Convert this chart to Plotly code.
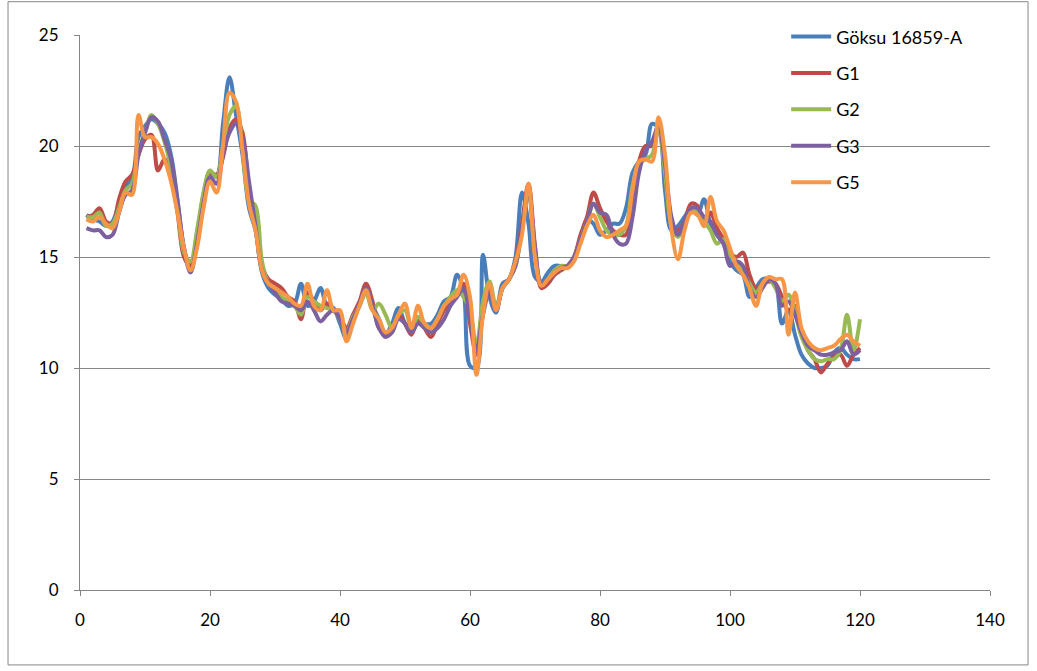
import plotly.graph_objects as go

# Sample positions 1..120
x_vals = list(range(1, 121))

goksu = [16.9, 16.7, 16.6, 16.4, 16.6, 17.4, 18.2, 18.5, 20.4, 20.9,
         21.2, 21.0, 20.6, 19.6, 17.6, 15.4, 14.5, 15.6, 17.4, 18.8,
         18.6, 21.0, 23.1, 21.4, 19.6, 17.2, 16.2, 14.3, 13.6, 13.3,
         13.1, 12.8, 12.9, 13.8, 12.8, 13.0, 13.6, 12.8, 12.7, 12.0,
         11.3, 12.2, 12.8, 13.4, 12.8, 12.2, 11.5, 12.0, 12.7, 12.0,
         11.6, 12.3, 12.0, 12.0, 12.4, 13.0, 13.2, 14.2, 13.5, 10.1,
         10.0, 15.1, 13.2, 12.5, 13.8, 14.0, 15.0, 17.9, 16.5, 14.1,
         13.9, 14.3, 14.6, 14.6, 14.6, 14.9, 15.8, 16.7, 16.5, 16.0,
         16.2, 16.5, 16.5, 17.2, 18.8, 19.3, 19.6, 21.0, 20.8, 18.0,
         16.2, 16.4, 16.8, 17.2, 16.9, 17.6, 16.5, 16.0, 15.6, 14.8,
         14.4, 14.2, 13.2, 13.6, 14.0, 14.0, 13.8, 12.0, 12.6, 11.5,
         10.6, 10.2, 10.0, 10.0, 10.1, 10.7, 10.9, 10.6, 10.4, 10.4]

g1 = [16.8, 16.9, 17.2, 16.6, 16.5, 17.6, 18.4, 18.7, 19.6, 20.3,
      20.5, 18.9, 19.4, 18.6, 17.0, 15.0, 14.6, 16.0, 17.8, 18.8,
      18.7, 19.5, 20.8, 21.2, 20.6, 18.0, 16.5, 14.6, 14.0, 13.8,
      13.6, 13.2, 13.0, 12.2, 13.4, 13.0, 12.6, 12.9, 12.6, 12.3,
      11.8, 12.4, 13.0, 13.8, 13.0, 11.8, 11.6, 11.7, 12.4, 12.0,
      11.5, 12.2, 11.8, 11.4, 12.0, 12.6, 13.0, 13.4, 13.8, 12.0,
      10.6, 12.8, 13.6, 12.6, 13.6, 14.0, 14.8, 16.5, 18.3, 15.5,
      13.6, 13.8, 14.2, 14.4, 14.6, 15.0, 16.0, 16.8, 17.9, 17.2,
      16.6, 16.2, 16.0, 16.0, 17.5, 19.3, 20.0, 20.0, 21.0, 19.0,
      16.5, 16.2, 16.6, 17.4, 17.3, 16.4, 17.0, 16.3, 15.8, 15.2,
      15.0, 15.2, 14.2, 13.6, 13.8, 13.9, 13.8, 13.2, 12.6, 12.8,
      11.6, 10.8, 10.4, 9.8, 10.2, 10.5, 10.6, 10.1, 10.6, 10.9]

g2 = [16.8, 16.8, 17.0, 16.4, 16.5, 17.2, 18.0, 18.3, 19.8, 20.6,
      21.4, 21.0, 20.2, 19.0, 17.2, 15.2, 14.8, 16.2, 17.9, 18.9,
      18.6, 20.0, 21.4, 21.8, 20.0, 17.6, 17.3, 14.8, 13.8, 13.5,
      13.2, 13.0, 12.8, 12.4, 13.2, 13.0, 12.8, 12.7, 12.6, 12.2,
      11.6, 12.3, 12.8, 13.4, 12.6, 12.9, 12.4, 11.8, 12.4, 12.6,
      11.8, 12.3, 12.0, 11.8, 12.2, 12.8, 13.2, 13.5, 13.2, 12.6,
      11.0, 13.0, 13.9, 12.8, 13.6, 14.0, 14.6, 16.2, 17.9, 15.2,
      13.8, 14.0, 14.4, 14.6, 14.6, 14.9, 15.8, 16.6, 17.4, 16.8,
      16.2, 16.0, 16.0, 16.4, 18.2, 19.2, 19.4, 19.6, 20.8, 18.8,
      16.4, 15.9, 16.4, 17.2, 17.0, 16.6, 16.2, 15.6, 15.8, 15.1,
      14.8, 14.4, 13.8, 13.4, 13.8, 14.0, 13.6, 13.0, 13.3, 12.5,
      11.4, 10.8, 10.4, 10.3, 10.4, 10.4, 10.8, 12.4, 10.8, 12.2]

g3 = [16.3, 16.2, 16.2, 15.9, 16.0, 17.0, 17.8, 18.0, 19.6, 20.6,
      21.3, 21.1, 20.3, 19.4, 17.5, 15.4, 14.3, 15.6, 17.4, 18.6,
      18.3, 19.6, 20.6, 21.0, 20.4, 18.4, 16.4, 14.4, 13.8, 13.4,
      13.0, 12.9, 12.8, 12.6, 13.0, 12.6, 12.1, 12.4, 12.6, 12.2,
      11.6, 12.2, 12.9, 13.6, 12.8, 11.8, 11.4, 11.6, 12.2, 12.0,
      11.6, 12.0, 11.8, 11.6, 11.8, 12.2, 12.8, 13.2, 13.6, 12.2,
      10.8, 12.4, 13.4, 12.6, 13.6, 14.0, 14.6, 16.4, 18.0, 15.4,
      13.8, 14.0, 14.3, 14.5, 14.6, 15.0, 15.8, 16.6, 17.4, 17.0,
      16.9, 16.0, 15.6, 15.6, 16.8, 18.8, 19.8, 20.2, 20.9, 19.2,
      16.8, 16.0, 16.6, 17.2, 17.2, 16.8, 16.6, 16.0, 15.6, 14.6,
      14.8, 14.6, 13.6, 13.2, 13.6, 14.0, 13.8, 12.8, 13.0, 12.4,
      11.6, 11.0, 10.8, 10.6, 10.6, 10.7, 10.8, 11.2, 10.6, 10.8]

g5 = [16.7, 16.6, 16.8, 16.5, 16.3, 17.0, 17.9, 17.8, 21.4, 20.4,
      20.4, 20.1, 19.4, 18.4, 17.0, 15.4, 14.4, 15.4, 17.2, 18.4,
      17.9, 20.0, 22.4, 22.0, 19.8, 17.4, 16.2, 14.4, 13.8, 13.6,
      13.4, 13.2, 12.9, 12.8, 13.8, 12.8, 12.6, 13.5, 12.6, 12.6,
      11.2, 12.0, 12.8, 13.5, 12.6, 12.2, 11.6, 11.8, 12.4, 12.9,
      11.8, 12.8, 12.0, 11.8, 12.2, 12.8, 13.1, 13.3, 14.2, 13.2,
      9.7, 12.4, 13.8, 12.6, 13.6, 14.0, 14.8, 16.0, 18.3, 15.0,
      13.7, 14.0, 14.3, 14.5, 14.5, 14.8, 15.6, 16.4, 16.9, 16.2,
      15.9, 16.0, 16.2, 16.4, 18.0, 19.3, 19.4, 19.3, 21.3, 19.6,
      16.2, 14.9, 16.2, 17.0, 16.9, 16.4, 17.7, 16.6, 16.2, 15.4,
      14.6, 14.2, 13.6, 12.8, 13.8, 14.1, 14.0, 14.0, 11.5, 13.4,
      11.8, 11.2, 10.9, 10.8, 10.9, 11.0, 11.3, 11.5, 11.2, 11.0]

series_names = ["Göksu 16859-A", "G1", "G2", "G3", "G5"]
series_values = [goksu, g1, g2, g3, g5]
series_colors = ["#4A7EBB", "#BE4B48", "#98B954", "#7D60A0", "#F79646"]

x_ticks = [0, 20, 40, 60, 80, 100, 120, 140]
y_ticks = [0, 5, 10, 15, 20, 25]

FONT = "Lato, sans-serif"

fig = go.Figure()
for i, (name, vals, col) in enumerate(zip(series_names, series_values, series_colors)):
    fig.add_trace(go.Scatter(
        x=x_vals, y=vals, name=name, mode="lines",
        legendgroup=f"g{i}",
        line=dict(color=col, width=4, shape="spline", smoothing=1.0),
    ))

fig.update_layout(
    width=1037, height=671,
    margin=dict(l=80, r=47, t=35, b=81),
    paper_bgcolor="white", plot_bgcolor="white",
    font=dict(family=FONT, size=17, color="#000000"),
    showlegend=True,
    legend=dict(
        x=0.776, y=1.03, xanchor="left", yanchor="top",
        bgcolor="rgba(0,0,0,0)", borderwidth=0,
        font=dict(family=FONT, size=18, color="#000000"),
        tracegroupgap=10, itemwidth=40,
    ),
    xaxis=dict(
        range=[0, 140], tickvals=x_ticks, ticks="outside", ticklen=5,
        tickcolor="#868686", showline=True, linecolor="#868686", linewidth=1,
        showgrid=False, zeroline=False, tickfont=dict(size=17),
        ticklabelstandoff=10,
    ),
    yaxis=dict(
        range=[0, 25], tickvals=y_ticks, ticks="outside", ticklen=5,
        tickcolor="#868686", showline=True, linecolor="#868686", linewidth=1,
        showgrid=True, gridcolor="#868686", gridwidth=1, zeroline=False,
        tickfont=dict(size=17), ticklabelstandoff=12,
    ),
    shapes=[dict(
        type="rect", xref="paper", yref="paper",
        x0=-0.0791, x1=1.0418, y0=-0.135, y1=1.06,
        line=dict(color="#868686", width=1), fillcolor="rgba(0,0,0,0)",
        layer="below",
    )],
)

fig.write_html("out.html")
